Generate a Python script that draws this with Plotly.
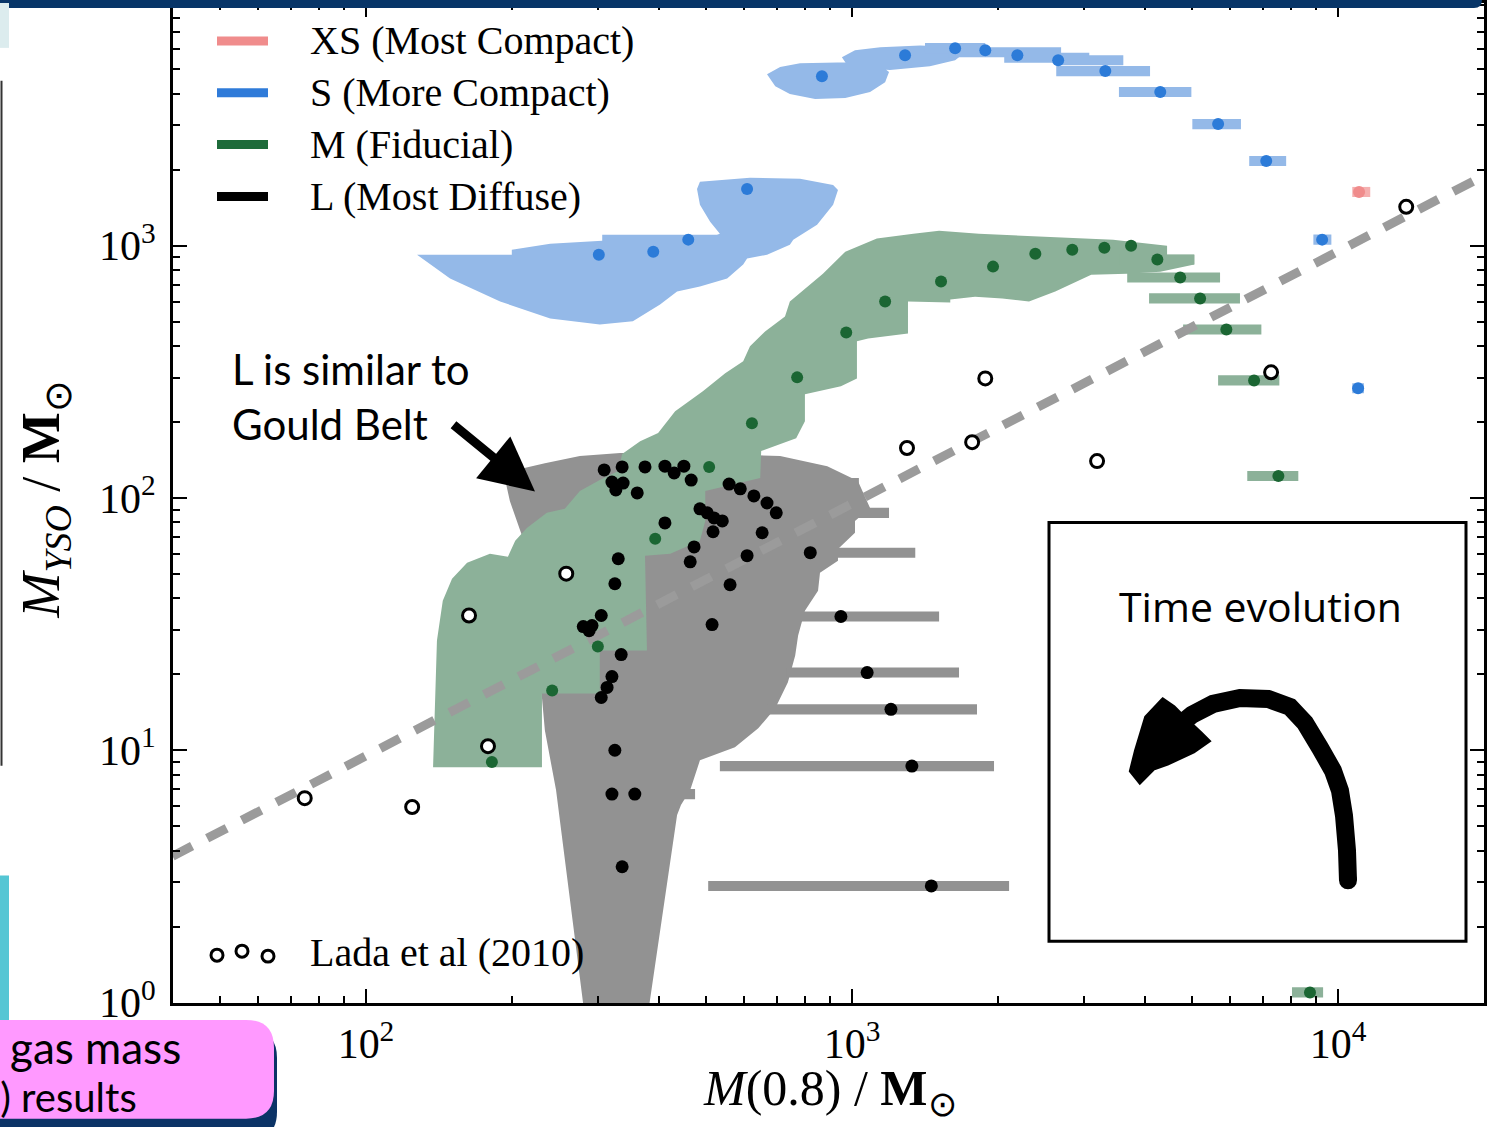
import numpy as np
import plotly.graph_objects as go

# ================= DATA (all values are log10 of masses in solar masses) =================
# L (Most Diffuse) clusters
L_log_m08 = [2.490, 2.527, 2.574, 2.615, 2.634, 2.654, 2.669, 2.506, 2.529, 2.514,
             2.558, 2.747, 2.770, 2.798, 2.825, 2.844, 2.687, 2.702, 2.716, 2.733,
             2.714, 2.615, 2.815, 2.675, 2.667, 2.784, 2.914, 2.519, 2.512, 2.749,
             2.484, 2.447, 2.465, 2.459, 2.712, 2.977, 2.525, 2.506, 2.496, 2.484,
             3.031, 3.080, 2.512, 3.123, 2.506, 2.553, 2.527, 3.163]
L_log_myso = [2.111, 2.123, 2.123, 2.126, 2.099, 2.126, 2.071, 2.063, 2.059, 2.032,
              2.020, 2.055, 2.036, 2.008, 1.980, 1.941, 1.957, 1.941, 1.921, 1.909,
              1.866, 1.901, 1.862, 1.806, 1.747, 1.771, 1.783, 1.759, 1.660, 1.656,
              1.534, 1.490, 1.494, 1.474, 1.498, 1.530, 1.379, 1.292, 1.249, 1.209,
              1.308, 1.162, 1.000, 0.937, 0.826, 0.826, 0.538, 0.462]
L_bar_log_y = [2.059, 1.941, 1.909, 1.783, 1.530, 1.308, 1.162, 0.937, 0.826, 0.462]
L_bar_log_lo = [2.603, 2.667, 2.539, 2.811, 2.893, 2.866, 2.825, 2.728, 2.564, 2.704]
L_bar_log_hi = [3.014, 3.076, 2.712, 3.130, 3.179, 3.220, 3.257, 3.292, 2.677, 3.323]
L_env_log_m08 = [2.286, 2.317, 2.368, 2.440, 2.523, 2.687, 2.852, 2.949, 3.012, 3.037,
                 3.006, 3.006, 2.971, 2.971, 2.934, 2.930, 2.903, 2.889, 2.883, 2.868,
                 2.842, 2.807, 2.759, 2.712, 2.687, 2.667, 2.648, 2.640, 2.576, 2.453,
                 2.399, 2.391, 2.368, 2.362, 2.337, 2.321, 2.296]
L_env_log_myso = [2.075, 2.115, 2.138, 2.166, 2.178, 2.178, 2.166, 2.126, 2.067, 1.960,
                  1.909, 1.862, 1.798, 1.751, 1.704, 1.632, 1.553, 1.455, 1.375, 1.269,
                  1.166, 1.087, 1.012, 0.976, 0.960, 0.842, 0.783, 0.743, -0.099, -0.099,
                  0.723, 0.842, 1.079, 1.209, 1.593, 1.850, 1.988]

# M (Fiducial)
M_log_m08 = [3.574, 3.519, 3.453, 3.377, 3.290, 3.183, 3.068, 2.988, 2.887, 2.794,
             2.706, 3.628, 3.675, 3.716, 3.770, 3.827, 3.877, 3.942, 2.595, 2.477,
             2.383, 2.259]
M_log_myso = [3.000, 2.992, 2.984, 2.968, 2.917, 2.858, 2.779, 2.656, 2.478, 2.296,
              2.123, 2.945, 2.874, 2.791, 2.668, 2.466, 2.087, 0.040, 1.838, 1.411,
              1.237, 0.953]
M_bar_log_y = [2.945, 2.874, 2.791, 2.668, 2.466, 2.087, 0.040]
M_bar_log_lo = [3.551, 3.566, 3.611, 3.681, 3.753, 3.813, 3.905]
M_bar_log_hi = [3.704, 3.757, 3.798, 3.842, 3.879, 3.918, 3.969]
M_env_log_m08 = [2.138, 2.142, 2.146, 2.158, 2.177, 2.208, 2.255, 2.292, 2.307, 2.331,
                 2.372, 2.409, 2.440, 2.481, 2.519, 2.527, 2.564, 2.601, 2.636, 2.693,
                 2.739, 2.776, 2.790, 2.821, 2.862, 2.872, 2.909, 2.940, 2.986, 3.051,
                 3.126, 3.179, 3.261, 3.354, 3.447, 3.537, 3.648, 3.648, 3.704, 3.704,
                 3.634, 3.566, 3.492, 3.418, 3.364, 3.309, 3.253, 3.202, 3.202, 3.115,
                 3.115, 3.033, 3.010, 3.010, 2.977, 2.903, 2.903, 2.885, 2.813, 2.811,
                 2.698, 2.698, 2.687, 2.626, 2.574, 2.578, 2.481, 2.481, 2.362, 2.362]
M_env_log_myso = [0.933, 1.237, 1.435, 1.593, 1.680, 1.743, 1.779, 1.767, 1.830, 1.881,
                  1.941, 1.957, 2.028, 2.071, 2.107, 2.174, 2.225, 2.257, 2.344, 2.423,
                  2.494, 2.542, 2.601, 2.660, 2.719, 2.779, 2.838, 2.889, 2.976, 3.028,
                  3.047, 3.059, 3.047, 3.040, 3.032, 3.024, 3.000, 2.964, 2.964, 2.925,
                  2.897, 2.889, 2.885, 2.818, 2.779, 2.791, 2.798, 2.787, 2.775, 2.779,
                  2.652, 2.632, 2.621, 2.474, 2.443, 2.411, 2.304, 2.237, 2.186, 2.079,
                  2.028, 1.909, 1.830, 1.779, 1.771, 1.395, 1.395, 1.225, 1.225, 0.933]

# S (More Compact)
S_log_m08 = [2.938, 3.109, 3.212, 3.274, 3.340, 3.424, 3.521, 3.634, 3.753, 3.852,
             3.967, 4.041, 2.479, 2.591, 2.663, 2.784]
S_log_myso = [3.672, 3.755, 3.783, 3.775, 3.755, 3.735, 3.692, 3.609, 3.482, 3.336,
              3.024, 2.435, 2.964, 2.976, 3.024, 3.225]
S_bar_log_y = [3.783, 3.767, 3.745, 3.735, 3.692, 3.609, 3.482, 3.336, 3.024, 2.435]
S_bar_log_lo = [3.150, 3.198, 3.313, 3.420, 3.420, 3.549, 3.700, 3.817, 3.949, 4.029]
S_bar_log_hi = [3.274, 3.430, 3.488, 3.558, 3.613, 3.698, 3.800, 3.893, 3.986, 4.053]
S_env1_log_m08 = [2.105, 2.173, 2.276, 2.379, 2.481, 2.549, 2.605, 2.640, 2.687, 2.743,
                  2.776, 2.784, 2.825, 2.872, 2.879, 2.928, 2.961, 2.971, 2.961, 2.893,
                  2.790, 2.687, 2.681, 2.687, 2.708, 2.728, 2.722, 2.486, 2.486, 2.379,
                  2.300, 2.300]
S_env1_log_myso = [2.964, 2.870, 2.779, 2.711, 2.688, 2.700, 2.767, 2.818, 2.838, 2.870,
                   2.925, 2.949, 2.964, 3.004, 3.024, 3.083, 3.162, 3.221, 3.241, 3.265,
                   3.269, 3.253, 3.225, 3.162, 3.095, 3.047, 3.043, 3.043, 3.020, 3.008,
                   2.984, 2.964]
S_env2_log_m08 = [2.825, 2.852, 2.893, 2.996, 3.058, 3.076, 3.068, 3.037, 2.986, 2.924, 2.872, 2.842]
S_env2_log_myso = [3.680, 3.708, 3.723, 3.727, 3.715, 3.688, 3.648, 3.609, 3.585, 3.581, 3.601, 3.632]
S_env3_log_m08 = [2.979, 3.006, 3.058, 3.140, 3.222, 3.233, 3.212, 3.160, 3.078, 3.016, 2.986]
S_env3_log_myso = [3.747, 3.775, 3.787, 3.794, 3.787, 3.767, 3.735, 3.711, 3.696, 3.704, 3.727]

# XS (Most Compact)
XS_log_m08 = [4.043]
XS_log_myso = [3.213]
XS_bar_log_y = [3.213]
XS_bar_log_lo = [4.029]
XS_bar_log_hi = [4.066]

# Lada et al (2010) observed clouds
Lada_log_m08 = [1.874, 2.095, 2.212, 2.412, 2.251, 3.113, 3.274, 3.247, 3.504, 3.862, 4.140]
Lada_log_myso = [0.810, 0.775, 1.534, 1.700, 1.016, 2.198, 2.474, 2.221, 2.146, 2.498, 3.154]

# Lada et al (2010) linear relation  M_YSO = k * M(0.8)
lada_k = 0.095
lada_line_m08 = [40.0, 20000.0]

legend_labels = ["XS (Most Compact)", "S (More Compact)", "M (Fiducial)", "L (Most Diffuse)"]
x_tick_vals = [100, 1000, 10000]
x_tick_text = ["10<sup>2</sup>", "10<sup>3</sup>", "10<sup>4</sup>"]
y_tick_vals = [1, 10, 100, 1000]
y_tick_text = ["10<sup>0</sup>", "10<sup>1</sup>", "10<sup>2</sup>", "10<sup>3</sup>"]

# ================= STYLE =================
C_XS, C_XS_FILL = "#f08c8c", "#f5b0b0"
C_S, C_S_FILL = "#2c7bd8", "#94b9e8"
C_M, C_M_FILL = "#1b6633", "#8cb199"
C_L, C_L_FILL = "#000000", "#929292"
LEG_COLORS = ["#f08c8c", "#2f7bd9", "#1e6b3a", "#000000"]
SERIF = "Liberation Serif"
SANS = "Lato"

W, H = 1491, 1127
ML, MR, MT, MB = 173, 7, 0, 124
PW, PH = W - ML - MR, H - MT - MB


def lin(a):
    return [None if v is None else 10 ** v for v in a]


def bars(lo, hi, yc, half):
    xs, ys = [], []
    for a, b, c in zip(lo, hi, yc):
        xs += [a, b, b, a, a, None]
        ys += [c - half, c - half, c + half, c + half, c - half, None]
    return lin(xs), lin(ys)


def polys(*pairs):
    xs, ys = [], []
    for px_, py_ in pairs:
        xs += list(px_) + [px_[0], None]
        ys += list(py_) + [py_[0], None]
    return lin(xs), lin(ys)


def P(px, py):
    """pixel position on the page -> paper coordinates (for decorations only)"""
    return (px - ML) / PW, (H - MB - py) / PH


def path_px(points, close=False):
    s = ""
    for i, (x, y) in enumerate(points):
        u, v = P(x, y)
        s += ("M" if i == 0 else "L") + f"{u:.5f},{v:.5f} "
    return s + ("Z" if close else "")


def rrect_px(x0, y0, x1, y1, r):
    def p(x, y):
        u, v = P(x, y)
        return f"{u:.5f},{v:.5f}"
    return (f"M{p(x0 + r, y0)} L{p(x1 - r, y0)} Q{p(x1, y0)} {p(x1, y0 + r)} "
            f"L{p(x1, y1 - r)} Q{p(x1, y1)} {p(x1 - r, y1)} L{p(x0 + r, y1)} "
            f"Q{p(x0, y1)} {p(x0, y1 - r)} L{p(x0, y0 + r)} Q{p(x0, y0)} {p(x0 + r, y0)} Z")


fig = go.Figure()


def add_fill(xy, color):
    fig.add_trace(go.Scatter(x=xy[0], y=xy[1], mode="lines", fill="toself",
                             fillcolor=color, line=dict(width=0, color=color),
                             hoverinfo="skip", showlegend=False))


# envelopes and error bars
add_fill(polys((L_env_log_m08, L_env_log_myso)), C_L_FILL)
add_fill(bars(L_bar_log_lo, L_bar_log_hi, L_bar_log_y, 0.02), C_L_FILL)
add_fill(polys((M_env_log_m08, M_env_log_myso)), C_M_FILL)
add_fill(bars(M_bar_log_lo, M_bar_log_hi, M_bar_log_y, 0.02), C_M_FILL)
add_fill(polys((S_env1_log_m08, S_env1_log_myso), (S_env2_log_m08, S_env2_log_myso),
               (S_env3_log_m08, S_env3_log_myso)), C_S_FILL)
add_fill(bars(S_bar_log_lo, S_bar_log_hi, S_bar_log_y, 0.02), C_S_FILL)
add_fill(bars(XS_bar_log_lo, XS_bar_log_hi, XS_bar_log_y, 0.02), C_XS_FILL)

# Lada relation
fig.add_trace(go.Scatter(x=lada_line_m08, y=[lada_k * v for v in lada_line_m08],
                         mode="lines", line=dict(color="#9b9b9b", width=9, dash="22px,17px"),
                         hoverinfo="skip", showlegend=False))


def add_pts(lx, ly, color, size):
    fig.add_trace(go.Scatter(x=lin(lx), y=lin(ly), mode="markers",
                             marker=dict(color=color, size=size, line=dict(width=0)),
                             showlegend=False))


add_pts(L_log_m08, L_log_myso, C_L, 13)
add_pts(M_log_m08, M_log_myso, C_M, 12)
add_pts(S_log_m08, S_log_myso, C_S, 12)
add_pts(XS_log_m08, XS_log_myso, C_XS, 12)
fig.add_trace(go.Scatter(x=lin(Lada_log_m08), y=lin(Lada_log_myso), mode="markers",
                         marker=dict(color="white", size=13, line=dict(width=3, color="black")),
                         showlegend=False))

minor_x = [k * 10 ** e for e in range(1, 5) for k in range(2, 10)]
minor_y = [k * 10 ** e for e in range(0, 4) for k in range(2, 10)]

axis_common = dict(type="log", ticks="inside", ticklen=14, tickwidth=2, tickcolor="black",
                   showline=True, linewidth=3, linecolor="black", mirror="ticks",
                   showgrid=False, zeroline=False,
                   tickfont=dict(family=SERIF, size=42, color="black"))

fig.update_layout(
    width=W, height=H,
    margin=dict(l=ML, r=MR, t=MT, b=MB, pad=0),
    paper_bgcolor="white", plot_bgcolor="white",
    showlegend=False,
    xaxis=dict(range=[1.603, 4.300], tickmode="array", tickvals=x_tick_vals, ticktext=x_tick_text,
               ticklabelstandoff=2,
               minor=dict(ticks="inside", ticklen=7, tickwidth=1.5, tickcolor="black",
                          tickmode="array", tickvals=minor_x),
               **axis_common),
    yaxis=dict(range=[-0.002, 3.962], tickmode="array", tickvals=y_tick_vals, ticktext=y_tick_text,
               ticklabelstandoff=6,
               minor=dict(ticks="inside", ticklen=7, tickwidth=1.5, tickcolor="black",
                          tickmode="array", tickvals=minor_y),
               **axis_common),
)

shapes = []
annotations = []

# axis titles
u, v = P(45, 498)
annotations.append(dict(xref="paper", yref="paper", x=u, y=v, textangle=-90, showarrow=False,
                        text="<i>M</i><sub><i>YSO</i></sub> / <b>M</b><sub>⊙</sub>",
                        font=dict(family=SERIF, size=54, color="black"),
                        xanchor="center", yanchor="middle"))
u, v = P(830, 1126)
annotations.append(dict(xref="paper", yref="paper", x=u, y=v, showarrow=False,
                        text="<i>M</i>(0.8) / <b>M</b><sub>⊙</sub>",
                        font=dict(family=SERIF, size=50, color="black"),
                        xanchor="center", yanchor="bottom"))

# legend
for i, (lab, col) in enumerate(zip(legend_labels, LEG_COLORS)):
    yy = 38 + 52 * i
    x0, y0 = P(217, yy)
    x1, _ = P(268, yy)
    shapes.append(dict(type="line", xref="paper", yref="paper", x0=x0, x1=x1, y0=y0, y1=y0,
                       line=dict(color=col, width=9)))
    tx, ty = P(308, yy)
    annotations.append(dict(xref="paper", yref="paper", x=tx, y=ty, text=lab, showarrow=False,
                            xanchor="left", yanchor="middle",
                            font=dict(family=SERIF, size=40, color="black")))
for cx, cy in [(217, 955), (242, 951), (268, 956)]:
    a0, b0 = P(cx - 6, cy + 6)
    a1, b1 = P(cx + 6, cy - 6)
    shapes.append(dict(type="circle", xref="paper", yref="paper", x0=a0, x1=a1, y0=b0, y1=b1,
                       line=dict(color="black", width=3), fillcolor="white"))
tx, ty = P(308, 952)
annotations.append(dict(xref="paper", yref="paper", x=tx, y=ty, text="Lada et al (2010)",
                        showarrow=False, xanchor="left", yanchor="middle",
                        font=dict(family=SERIF, size=40, color="black")))

# "L is similar to Gould Belt" note with arrow
tx, ty = P(230, 395)
annotations.append(dict(xref="paper", yref="paper", x=tx, y=ty, showarrow=False,
                        text="L is similar to<br>Gould Belt", align="left",
                        xanchor="left", yanchor="middle",
                        font=dict(family=SANS, size=42, color="black")))
hx, hy = P(535, 490)
annotations.append(dict(xref="paper", yref="paper", x=hx, y=hy, text="", showarrow=True,
                        ax=-83, ay=-68, arrowhead=2, arrowsize=1.2, arrowwidth=9,
                        arrowcolor="black"))

# Time evolution box
a0, b0 = P(1049, 941)
a1, b1 = P(1466, 521)
shapes.append(dict(type="rect", xref="paper", yref="paper", x0=a0, x1=a1, y0=b0, y1=b1,
                   line=dict(color="black", width=3), fillcolor="white", layer="above"))
tx, ty = P(1260, 605)
annotations.append(dict(xref="paper", yref="paper", x=tx, y=ty, text="Time evolution",
                        showarrow=False, xanchor="center", yanchor="middle",
                        font=dict(family="Open Sans", size=41, color="black")))
curve = [(1348, 880), (1347, 850), (1344, 815), (1340, 790), (1333, 770), (1320, 747),
         (1305, 722), (1290, 706), (1268, 698), (1240, 697), (1213, 703), (1192, 714),
         (1175, 728)]
shapes.append(dict(type="path", xref="paper", yref="paper", path=path_px(curve),
                   line=dict(color="black", width=18), layer="above"))
for cx, cy in [(1348, 880)]:
    a0, b0 = P(cx - 9, cy + 9)
    a1, b1 = P(cx + 9, cy - 9)
    shapes.append(dict(type="circle", xref="paper", yref="paper", x0=a0, x1=a1, y0=b0, y1=b1,
                       fillcolor="black", line=dict(width=0), layer="above"))
head = [(1163, 700), (1147, 717), (1137, 750), (1132, 770), (1140, 780), (1153, 767),
        (1167, 762), (1193, 750), (1207, 740), (1200, 733), (1183, 717), (1173, 707)]
shapes.append(dict(type="path", xref="paper", yref="paper", path=path_px(head, close=True),
                   fillcolor="black", line=dict(color="black", width=6), layer="above"))

# slide decorations around the figure
shapes.append(dict(type="path", xref="paper", yref="paper", path=rrect_px(-20, -30, 1482, 5, 8),
                   fillcolor="#073568", line=dict(width=0), layer="above"))
a0, b0 = P(0, 45)
a1, b1 = P(9, 0)
shapes.append(dict(type="rect", xref="paper", yref="paper", x0=a0, x1=a1, y0=b0, y1=b1,
                   fillcolor="#dcecee", line=dict(width=0), layer="above"))
a0, b0 = P(1.5, 765)
a1, b1 = P(1.5, 78)
shapes.append(dict(type="line", xref="paper", yref="paper", x0=a0, x1=a1, y0=b0, y1=b1,
                   line=dict(color="#333333", width=2), layer="above"))
a0, b0 = P(0, 1020)
a1, b1 = P(9, 875)
shapes.append(dict(type="rect", xref="paper", yref="paper", x0=a0, x1=a1, y0=b0, y1=b1,
                   fillcolor="#55c6d4", line=dict(width=0), layer="above"))
shapes.append(dict(type="path", xref="paper", yref="paper", path=rrect_px(-40, 1030, 277, 1140, 28),
                   fillcolor="#0b3366", line=dict(width=0), layer="above"))
shapes.append(dict(type="path", xref="paper", yref="paper", path=rrect_px(-40, 1020, 274, 1119, 28),
                   fillcolor="#ff99ff", line=dict(width=0), layer="above"))
tx, ty = P(8, 1047)
annotations.append(dict(xref="paper", yref="paper", x=tx, y=ty, text="gas mass", showarrow=False,
                        xanchor="left", yanchor="middle",
                        font=dict(family=SANS, size=44, color="black")))
tx, ty = P(139, 1097)
annotations.append(dict(xref="paper", yref="paper", x=tx, y=ty, text="0) results", showarrow=False,
                        xanchor="right", yanchor="middle",
                        font=dict(family=SANS, size=40, color="black")))

fig.update_layout(shapes=shapes, annotations=annotations)
fig.write_html("out.html", config={"displayModeBar": False},
               post_script="document.body.style.margin='0px';document.body.style.overflow='hidden';")
